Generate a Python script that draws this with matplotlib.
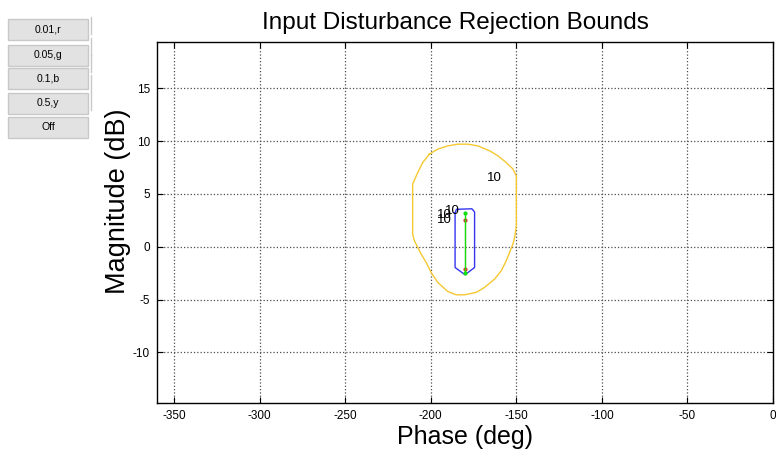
import numpy as np
import matplotlib.pyplot as plt
from matplotlib.patches import Rectangle

plt.rcParams['font.family'] = ['Liberation Sans', 'DejaVu Sans']
plt.rcParams['axes.unicode_minus'] = False

# bound contours (phase deg, magnitude dB)
yellow_phase = [-200.8, -195.9, -190.0, -184.2, -178.4, -172.5, -165.6, -160.8, -155.9,
                -152.0, -150.0, -150.0, -150.0, -151.0, -152.0, -155.9, -158.8, -162.7,
                -168.6, -173.4, -180.3, -185.1, -190.1, -195.9, -199.8, -202.7, -205.6,
                -209.6, -210.6, -210.6, -207.6, -204.7, -200.8]
yellow_mag = [8.78, 9.25, 9.56, 9.72, 9.72, 9.56, 9.09, 8.62, 7.98,
              7.36, 6.72, 5.94, 1.99, 0.88, 0.25, -1.33, -2.27, -3.06,
              -3.85, -4.32, -4.55, -4.55, -4.23, -3.38, -2.43, -1.49, -0.69,
              0.57, 1.2, 5.94, 7.04, 7.98, 8.78]

blue_phase = [-185.8, -185.0, -176.0, -174.4, -174.4, -180.0, -185.8, -185.8]
blue_mag = [3.2, 3.55, 3.6, 3.3, -1.96, -2.65, -1.96, 3.2]

green_phase = [-180.0, -180.0]
green_mag = [3.16, -2.52]
red_phase = [-179.8, -179.8]
red_mag = [2.52, -2.12]

# frequency labels
label_text = ['10', '10', '10', '10']
label_phase = [-162.7, -187.1, -192.0, -192.0]
label_mag = [6.5, 3.41, 2.97, 2.53]

buttons = ['0.01,r', '0.05,g', '0.1,b', '0.5,y', 'Off']

fig = plt.figure(figsize=(7.76, 4.53), dpi=100)
ax = fig.add_axes([157 / 776, 1 - 403 / 453, 616 / 776, 361 / 453])

ax.plot(yellow_phase, yellow_mag, color='#f5c832', lw=1.0)
ax.plot(blue_phase, blue_mag, color='#3535f0', lw=1.0)
ax.plot(red_phase, red_mag, color='#e83030', lw=0.8, marker='.', ms=4)
ax.plot(green_phase, green_mag, color='#10e010', lw=1.0, marker='.', ms=4)

for t, x, y in zip(label_text, label_phase, label_mag):
    ax.text(x, y, t, fontsize=9.5, ha='center', va='center')

ax.set_xlim(-360, 0)
ax.set_ylim(-14.8, 19.4)
ax.set_xticks(np.arange(-350, 1, 50))
ax.set_yticks(np.arange(-10, 16, 5))
ax.grid(True, linestyle=':', color='0.3', lw=0.9)
ax.tick_params(direction='in', top=True, right=True, labelsize=8.5, length=4, pad=5)
for s in ax.spines.values():
    s.set_linewidth(1.0)

ax.set_title('Input Disturbance Rejection Bounds', fontsize=17.5, pad=9, x=0.485)
ax.set_xlabel('Phase (deg)', fontsize=18, labelpad=2)
ax.set_ylabel('Magnitude (dB)', fontsize=19.5)
ax.yaxis.set_label_coords(-0.043, 0.56)

# button panel on the left
tops = [19, 45, 68, 93, 117]
for name, top in zip(buttons, tops):
    h = 21
    fig.patches.append(Rectangle((8 / 776, 1 - (top + h) / 453), 80 / 776, h / 453,
                                 transform=fig.transFigure, facecolor='#e2e2e2',
                                 edgecolor='#c8c8c8', lw=1.0))
    fig.text(48 / 776, 1 - (top + h / 2) / 453, name, fontsize=7.5,
             ha='center', va='center')
for top in [17, 38, 55, 75, 93]:
    fig.lines.append(plt.Line2D([91 / 776, 91 / 776], [1 - top / 453, 1 - (top + 17) / 453],
                                transform=fig.transFigure, color='#c8c8c8', lw=1.0))

fig.savefig('out.png', dpi=100)
